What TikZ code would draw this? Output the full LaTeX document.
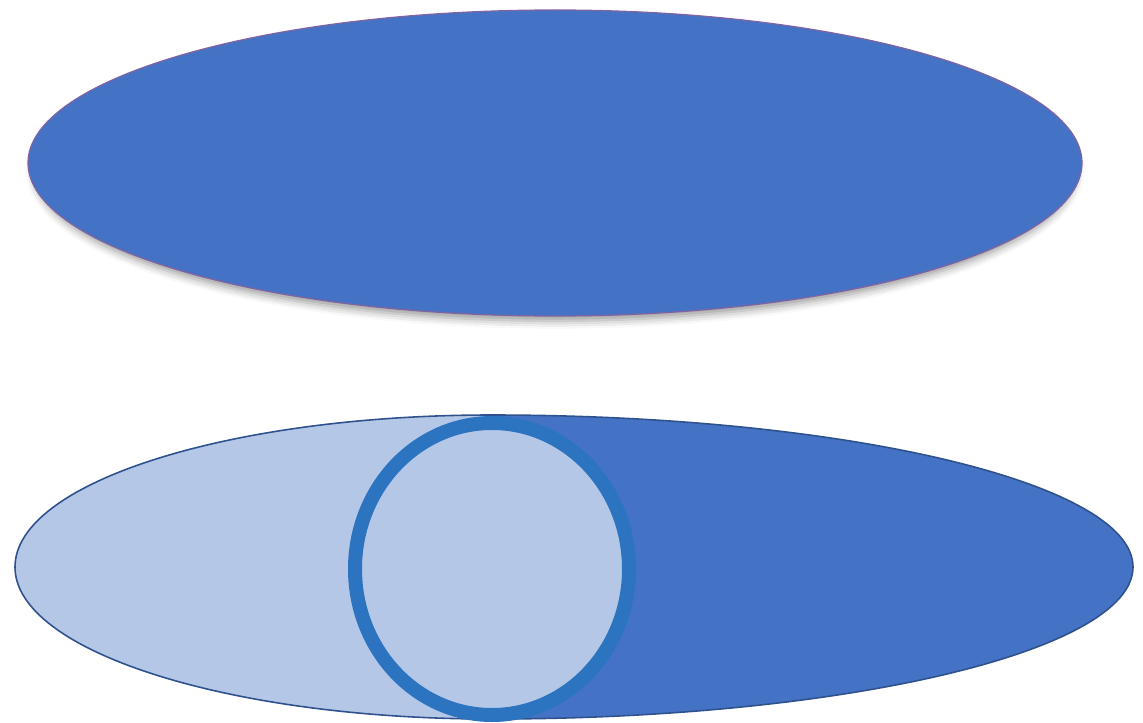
\documentclass[tikz,border=0pt]{standalone}
\usetikzlibrary{shadows.blur}
\definecolor{ovalblue}{RGB}{68,114,196}
\definecolor{ovalpale}{RGB}{180,199,231}
\definecolor{ovalline}{RGB}{47,82,143}
\definecolor{rimblue}{RGB}{44,116,192}
\definecolor{ovalpurple}{RGB}{128,100,162}
\begin{document}
\begin{tikzpicture}[x=0.02cm, y=-0.02cm,
  topoval/.style={fill=ovalblue, draw=ovalpurple, line width=0.7pt,
                  blur shadow={shadow xshift=0pt, shadow yshift=-0.13cm,
                               shadow scale=0.99,
                               shadow blur radius=0.16cm, shadow opacity=40}},
  paleside/.style={fill=ovalpale},
  darkside/.style={fill=ovalblue},
  rimline/.style={draw=ovalline, line width=0.9pt},
  ring/.style={draw=rimblue, line width=0.28cm, fill=ovalpale}
]
  \useasboundingbox (0,0) rectangle (1143,723);

  % upper oval with its shadow
  \path[topoval] (555,163) ellipse [x radius=527, y radius=153];

  % lower oval: pale left half, dark right half
  \path[paleside] (491,415) arc [start angle=270, end angle=90, x radius=476, y radius=152] -- cycle;
  \path[darkside] (491,415) arc [start angle=-90, end angle=90, x radius=642, y radius=152] -- cycle;
  \path[rimline] (491,415) arc [start angle=270, end angle=90, x radius=476, y radius=152]
                 arc [start angle=90, end angle=-90, x radius=642, y radius=152];

  % ring on the split
  \path[ring] (492,569) ellipse [x radius=137, y radius=146];
\end{tikzpicture}
\end{document}
